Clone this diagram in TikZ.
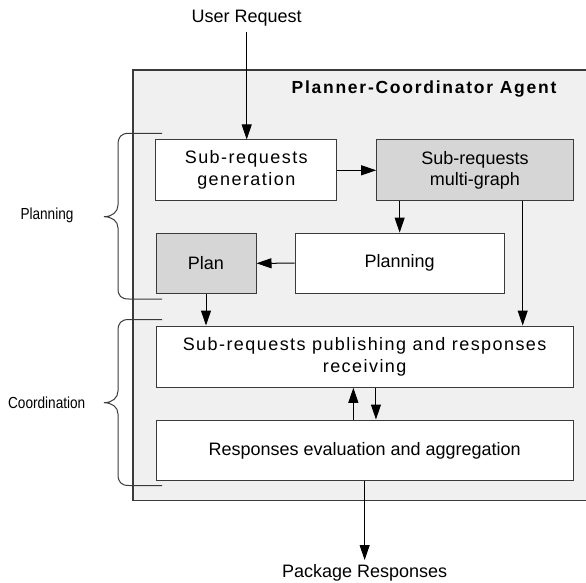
\documentclass[tikz,border=0pt]{standalone}
\usepackage{fontspec}
\setmainfont{Liberation Sans}
\newfontfamily\spacedfont{Liberation Sans}[LetterSpace=8]
\newfontfamily\titlefont{Liberation Sans}[LetterSpace=10]
\newfontfamily\sidefont{Liberation Sans}[FakeStretch=0.85]
\usetikzlibrary{arrows.meta}
\definecolor{agentbg}{HTML}{F0F0F0}
\definecolor{graybox}{HTML}{D6D6D6}
\definecolor{edge}{HTML}{3A3A3A}

\begin{document}
\begin{tikzpicture}[x=1pt,y=-1pt,
  box/.style={draw=edge, line width=1pt, fill=white, inner sep=0pt, align=center,
    font=\fontsize{18}{21}\selectfont},
  shaded/.style={box, fill=graybox},
  lbl/.style={font=\fontsize{18}{21}\selectfont},
  side/.style={font=\sidefont\fontsize{16}{19}\selectfont},
  arr/.style={-{Triangle[length=15pt,width=10pt]}, line width=1pt, draw=black},
  brace/.style={draw=edge, line width=1pt}]
\useasboundingbox (0,0) rectangle (586,583);
% agent frame
\draw [edge, line width=1.5pt, fill=agentbg] (133,70) rectangle (600,500.7);
\node [font=\titlefont\bfseries\fontsize{17.5}{20}\selectfont, anchor=base] (title) at (424,93.3) {Planner-Coordinator Agent};
% blocks
\node [box, minimum width=180.7pt, minimum height=60.7pt, font=\spacedfont\fontsize{18}{22}\selectfont] (gen) at (246.3,170.3) {Sub-requests\\generation};
\node [shaded, minimum width=196.6pt, minimum height=60.7pt] (multi) at (475,170.3) {Sub-requests\\multi-graph};
\node [shaded, minimum width=100pt, minimum height=60pt] (plan) at (206,263.3) {Plan};
\node [box, minimum width=209.3pt, minimum height=60.3pt] (pln) at (399.65,263.2) {Planning};
\node [box, minimum width=417.3pt, minimum height=61.3pt, font=\spacedfont\fontsize{18}{22}\selectfont] (pub) at (364.65,356.65) {Sub-requests publishing and responses\\receiving};
\node [box, minimum width=417.3pt, minimum height=60.7pt] (resp) at (364.65,450.35) {Responses evaluation and aggregation};
% outside texts
\node [lbl, anchor=south, inner sep=5pt] (user) at (246.7,31.7) {User Request};
\node [lbl, anchor=north, inner sep=4pt] (pkg) at (364.65,560) {Package Responses};
\node [side] (planlbl) at (47,215.7) {Planning};
\node [side] (coordlbl) at (46.7,402.5) {Coordination};
% connectors
\draw [arr] (user.south) -- (user.south |- gen.north);
\draw [arr] (gen.east) -- (multi.west);
\draw [arr] (multi.south -| pln.north) -- (pln.north);
\draw [arr] ([xshift=47.7pt]multi.south) -- ([xshift=47.7pt]multi.south |- pub.north);
\draw [arr] (pln.west) -- (plan.east);
\draw [arr] (plan.south) -- (plan.south |- pub.north);
\draw [arr] ([xshift=-11.3pt]resp.north) -- ([xshift=-11.3pt]pub.south);
\draw [arr] ([xshift=11.3pt]pub.south) -- ([xshift=11.3pt]resp.north);
\draw [arr] (resp.south) -- (pkg.north);
% braces
\draw [brace] (162,133.3) -- (129,133.3) .. controls (121,133.3) and (118,137) .. (118,145)
  -- (118,205) .. controls (118,212) and (112,216.7) .. (104,216.7)
  .. controls (112,216.7) and (118,221) .. (118,228)
  -- (118,288) .. controls (118,296) and (121,299) .. (129,299) -- (162,299);
\draw [brace] (162,319.5) -- (129,319.5) .. controls (121,319.5) and (118,323) .. (118,331)
  -- (118,391) .. controls (118,398) and (112,402.7) .. (104,402.7)
  .. controls (112,402.7) and (118,407) .. (118,414)
  -- (118,474) .. controls (118,482) and (121,485.5) .. (129,485.5) -- (162,485.5);
\end{tikzpicture}
\end{document}
